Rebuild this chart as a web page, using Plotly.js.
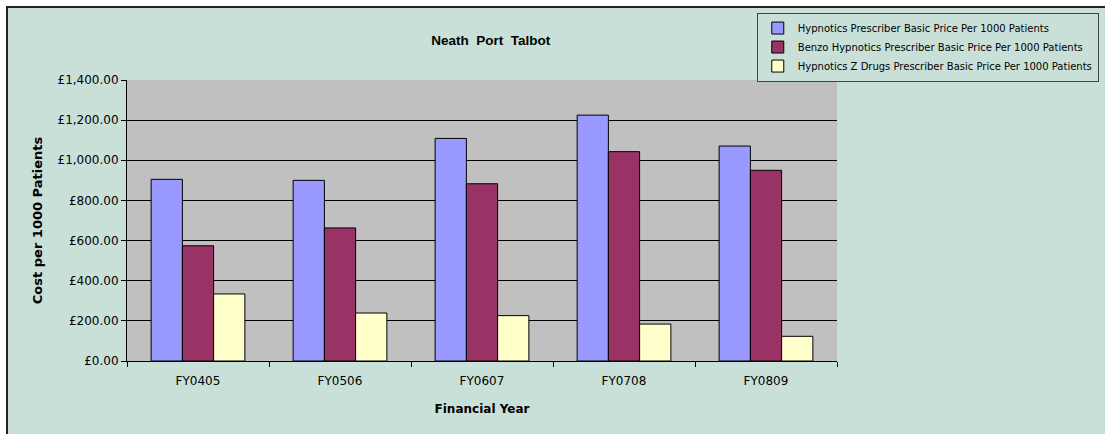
<!DOCTYPE html>
<html>
<head>
<meta charset="utf-8">
<script src="https://cdn.plot.ly/plotly-3.0.1.min.js"></script>
<style>
html,body{margin:0;padding:0;background:#ffffff;width:1105px;height:434px;overflow:hidden;}
#wrap{position:absolute;left:6px;top:6px;border-left:2px solid #222;border-top:2px solid #222;width:1097px;height:426px;}
#chart{width:1097px;height:426px;}
</style>
</head>
<body>
<div id="wrap"><div id="chart"></div></div>
<script>
const years = ["FY0405", "FY0506", "FY0607", "FY0708", "FY0809"];
const hypnotics = [905, 900, 1109, 1225, 1071];
const benzo = [574, 663, 883, 1043, 950];
const zDrugs = [334, 239, 226, 184, 123];
const seriesNames = [
  "Hypnotics Prescriber Basic Price Per 1000 Patients",
  "Benzo Hypnotics Prescriber Basic Price Per 1000 Patients",
  "Hypnotics Z Drugs Prescriber Basic Price Per 1000 Patients"
];
const colors = ["#9999FF", "#993366", "#FFFFCC"];
const values = [hypnotics, benzo, zDrugs];

const font = "DejaVu Sans, Verdana, sans-serif";
const traces = values.map((v, i) => ({
  type: "bar",
  name: seriesNames[i],
  x: years,
  y: v,
  marker: {color: colors[i], line: {color: "#000000", width: 1}},
  hoverinfo: "x+y"
}));

const layout = {
  width: 1097, height: 426,
  margin: {l: 119, r: 268, t: 72, b: 73, autoexpand: false},
  paper_bgcolor: "#C9E0D9",
  plot_bgcolor: "#C0C0C0",
  barmode: "group",
  bargap: 0.34,
  bargroupgap: 0,
  font: {family: font, color: "#000000", size: 12},
  title: {text: "<b>Neath  Port  Talbot</b>", x: 0.44, xanchor: "center", y: 0.925, yanchor: "middle", font: {family: "Liberation Sans, Arial, sans-serif", size: 13.5, color: "#000"}},
  xaxis: {
    type: "category",
    showline: true, linecolor: "#000", linewidth: 1,
    ticks: "outside", tickson: "boundaries", ticklen: 5, tickcolor: "#000",
    showgrid: false,
    ticklabelstandoff: 9,
    automargin: false,
    tickfont: {family: font, size: 12},
    title: {text: "<b>Financial Year</b>", font: {family: font, size: 12}, standoff: 17}
  },
  yaxis: {
    range: [0, 1400], dtick: 200,
    tickprefix: "£", tickformat: ",.2f",
    showline: true, linecolor: "#000", linewidth: 1,
    ticks: "outside", ticklen: 5, tickcolor: "#000",
    showgrid: true, gridcolor: "#000", gridwidth: 1,
    zeroline: false,
    automargin: false,
    tickfont: {family: font, size: 12},
    title: {text: "<b>Cost per 1000 Patients</b>", font: {family: font, size: 13}, standoff: 11}
  },
  legend: {
    x: 0.887, xanchor: "left", y: 1.24, yanchor: "top",
    bgcolor: "#C9E0D9", bordercolor: "#444", borderwidth: 1,
    font: {family: font, size: 10}, tracegroupgap: 0,
    itemwidth: 30
  },
  showlegend: true
};

Plotly.newPlot("chart", traces, layout, {displayModeBar: false, staticPlot: true});
</script>
</body>
</html>
